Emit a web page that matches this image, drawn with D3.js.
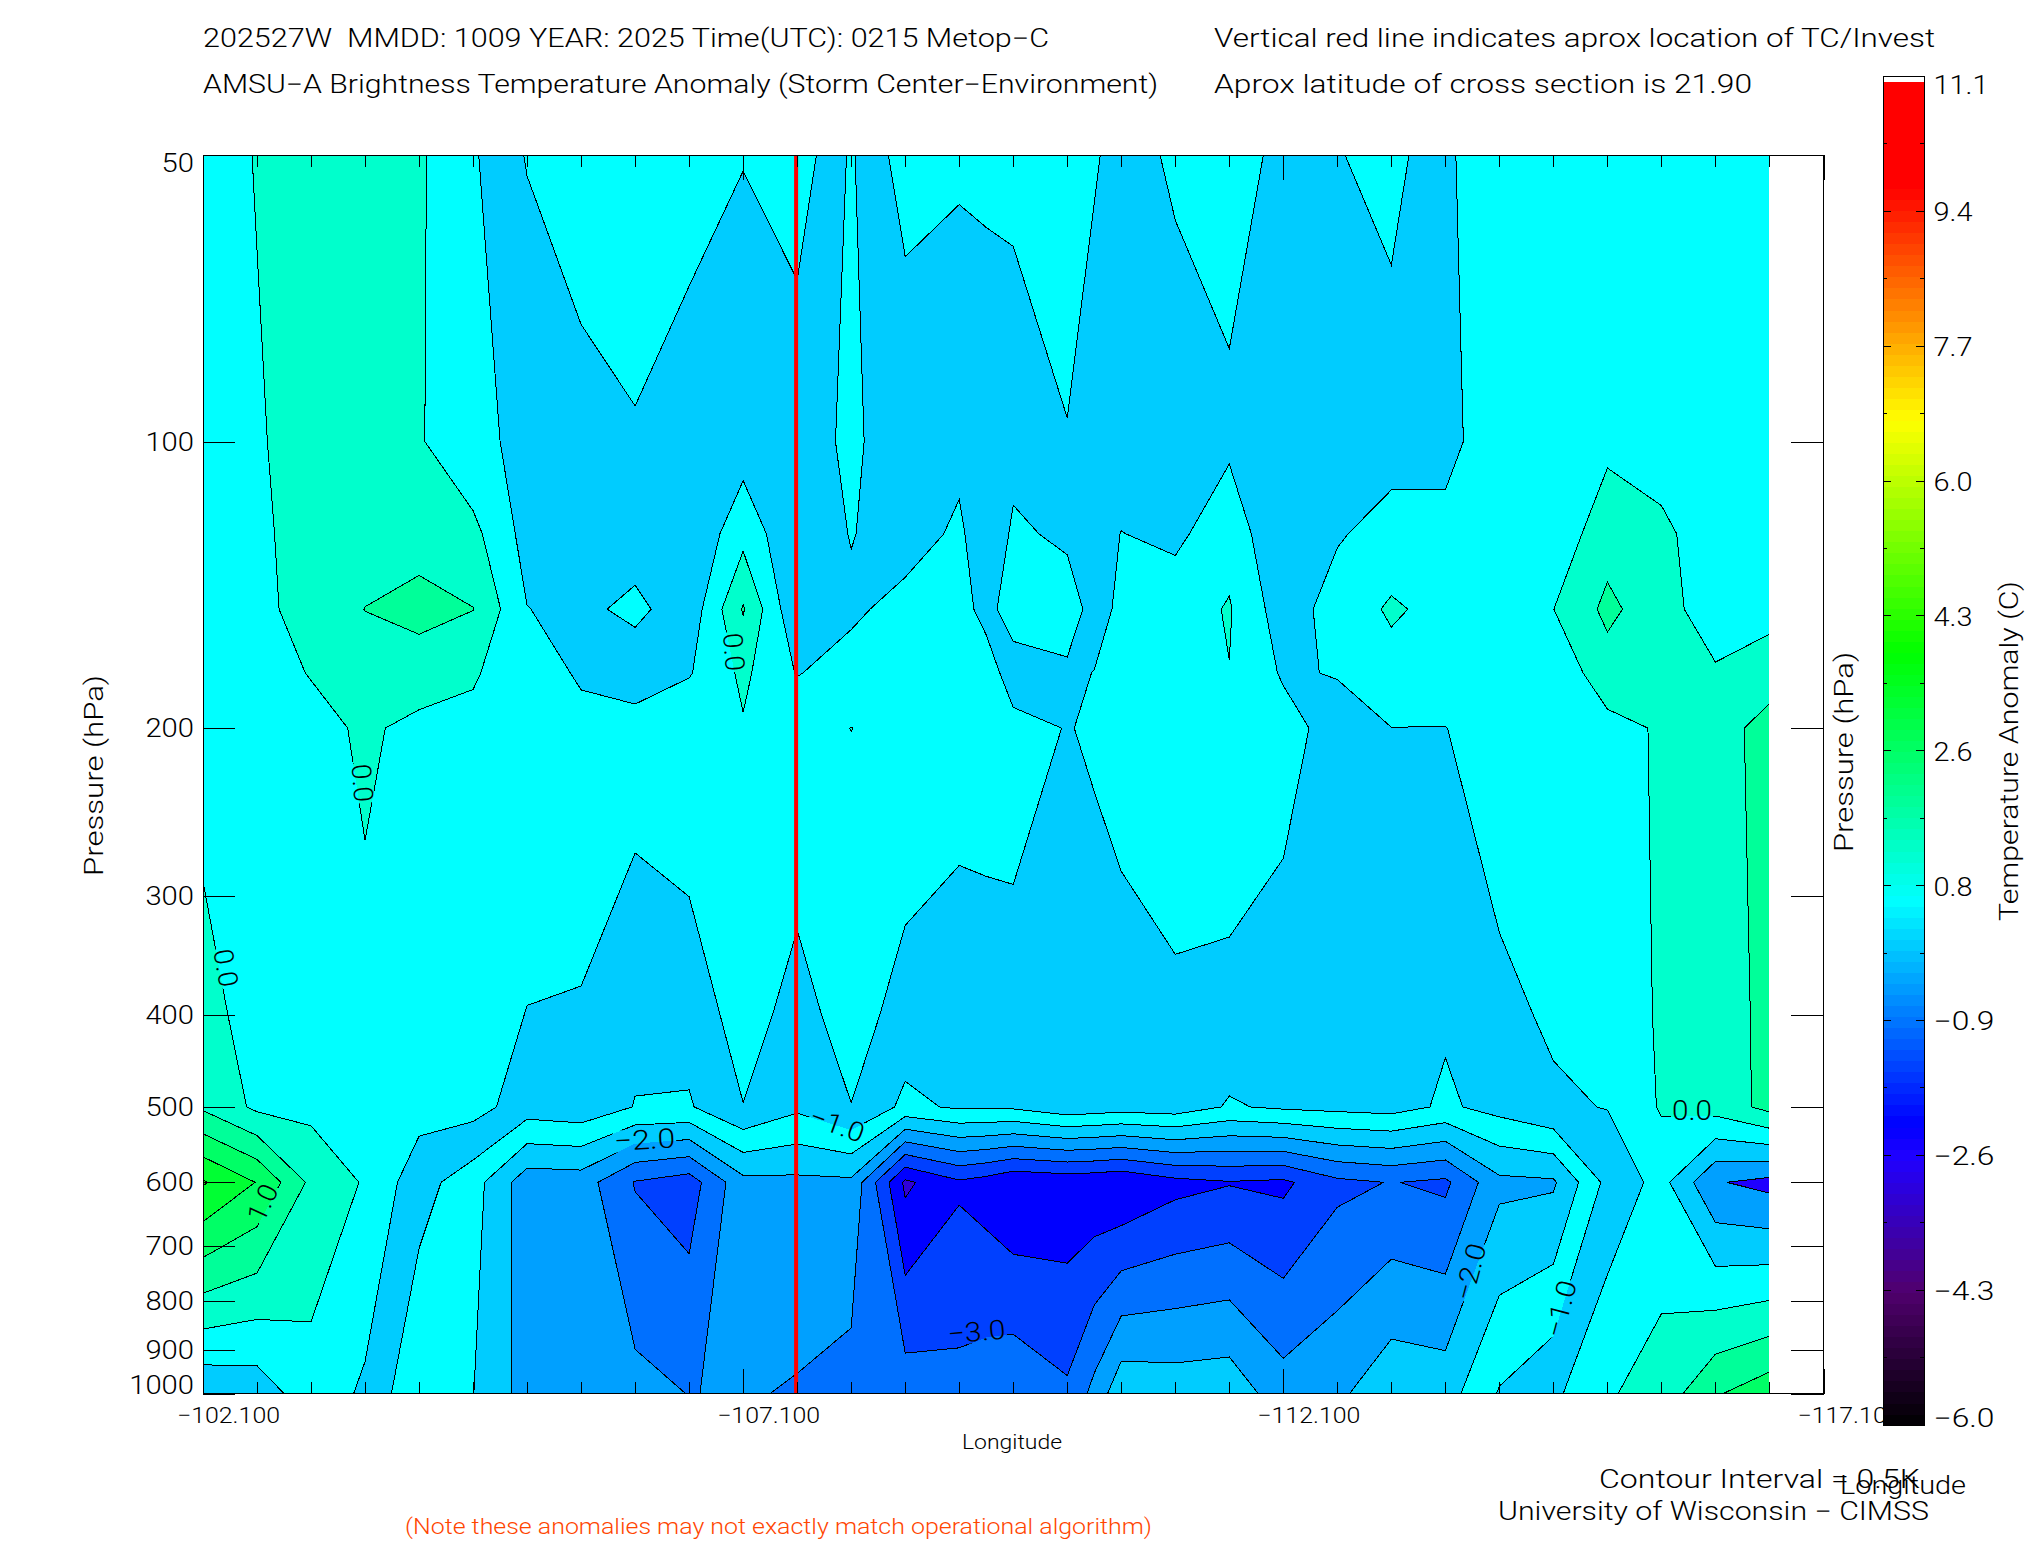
<!DOCTYPE html>
<html><head><meta charset="utf-8">
<script src="https://cdn.jsdelivr.net/npm/d3@7/dist/d3.min.js"></script>
<style>
html,body{margin:0;background:#fff}
svg{display:block}
text{font-family:Roboto,"Liberation Sans",sans-serif;font-weight:300;fill:#000;white-space:pre}
</style></head><body>
<svg id="c" width="2025" height="1550"></svg>
<script>
// Longitude columns of the cross section (two half-step columns are needed around -109.35 and -110.35)
const lons=[-102.1,-102.6,-103.1,-103.6,-104.1,-104.6,-105.1,-105.6,-106.1,-106.6,-107.1,-107.6,-108.1,-108.6,-109.1,-109.35,-109.6,-110.1,-110.35,-110.6,-111.1,-111.6,-112.1,-112.6,-113.1,-113.6,-114.1,-114.6,-115.1,-115.6,-116.1,-116.6];
const tickLons=[-102.1,-102.6,-103.1,-103.6,-104.1,-104.6,-105.1,-105.6,-106.1,-106.6,-107.1,-107.6,-108.1,-108.6,-109.1,-109.6,-110.1,-110.6,-111.1,-111.6,-112.1,-112.6,-113.1,-113.6,-114.1,-114.6,-115.1,-115.6,-116.1,-116.6];
const pressures=[30,100,125,150,175,200,400,500,600,1000];
// Anomaly (K) per level, one value per longitude column
const t30=[-.19,.08,.2,.2,.1,-.53,-.43,-.24,.02,-.28,-.29,-.292,-.509,-.28,-.28,-.235,-.19,-.1,-.283,-.47,-.25,-.065,-.427,-.31,-.1,-.52,-.3,-.2,-.2,-.2,-.2,-.2];
const t100=[-.4,-.05,.21,.2,.05,-.42,-.58,-.58,-.54,-.6,-.75,-.6,-.459,-.63,-.7,-.7,-.7,-.52,-.7,-.8,-.7,-.6,-.8,-.8,-.72,-.62,-.26,-.2,-.115,-.25,-.3,-.3];
const t125=[-.35,-.12,.25,.35,.34,.14,-.68,-.7,-.8,-.95,-.16,-.95,-.47,-.8,-.38,-.95,-.41,-.6,-.7,-.49,-.61,-.19,-.95,-.55,-.3,-.39,-.2,-.32,.286,.11,-.28,-.25];
const t150=[-.3,-.2,.29,.505,.63,.51,-.49,-.63,-.36,-.83,.54,-.95,-.618,-.28,-.42,-.568,-.398,-.24,-.69,-.4,-.227,.04,-.77,-.28,.066,-.15,-.15,-.005,.62,.19,-.26,-.18];
const t175=[-.28,-.25,.03,.35,.3,.03,-.18,-.58,-.85,-.54,.1,-.53,-.25,-.2,-.33,-.4,-.6,-.587,-.49,-.38,-.2,-.01,-.56,-.47,-.17,-.2,-.15,-.35,.287,.2,.053,.28];
const t200=[-.23,-.28,-.19,.09,-.15,-.07,-.2,-.32,-.23,-.1,-.04,-.08,.003,-.08,-.27,-.35,-.44,-.507,-.48,-.45,-.2,-.15,-.3,-.72,-.505,-.51,-.25,-.3,-.15,.05,.3,.675];
const t400=[.2,-.235,-.25,-.14,-.25,-.32,-.51,-.52,-.85,-.78,-.29,-.676,-.285,-.69,-.75,-.64,-.55,-.7,-.57,-.55,-.58,-.63,-.74,-.8,-.7,-.93,-.6,-.44,-.4,.08,.3,.61];
const t500=[.42,-.1,-.13,-.2,-.31,-.31,-.75,-.66,-1.02,-1.05,-.51,-.9,-.51,-1.12,-.93,-.925,-.92,-.66,-.72,-.78,-.72,-1.05,-.92,-.86,-.8,-1.08,-.83,-.56,-.485,.05,.2,.65];
const t600=[2.05,1.48,.39,-.05,-.8,-1.29,-2.29,-2.26,-3.03,-3.25,-2.15,-2.12,-2.1,-4.1,-3.58,-3.72,-3.95,-3.86,-3.9,-3.98,-3.66,-3.53,-3.6,-3.12,-2.98,-3.1,-2.12,-2.07,-.85,-.33,-1.46,-1.65];
const t1000=[-.9,-.8,-.2,-.58,-1.44,-1.49,-2.21,-2.25,-2.36,-2.51,-2.46,-2.54,-2.68,-2.74,-2.84,-2.74,-2.63,-2.92,-2.35,-1.64,-1.72,-1.68,-2.28,-2.1,-1.66,-1.72,-.96,-.6,-.05,.2,.95,1.3];
const levels=[-4.5,-4,-3.5,-3,-2.5,-2,-1.5,-1,-.5,0,.5,1,1.5,2];
const levelColors=["#3000d8","#0000ff","#0040ff","#0070ff","#00a0ff","#00ccff","#00ffff","#00ccff","#00ffff","#00ffcc","#00ff99","#00ff66","#00ff33","#00ff00"];
const levelColorsEast=["#2000ff","#2000ff","#2000ff","#2000ff","#2000ff","#2000ff","#00a0ff","#00ccff","#00ffff","#00ffcc","#00ff99","#00ff66","#00ff33","#00ff00"];
const pressureTicks=[50,100,200,300,400,500,600,700,800,900,1000];
const majorLons=[-102.1,-107.1,-112.1,-117.1];
const barTicks=["11.1","9.4","7.7","6.0","4.3","2.6","0.8","−0.9","−2.6","−4.3","−6.0"];
const barStops=[-6,-4.3,-2.6,-2.18,.66,3.8,6.74,9.7,11.1];
const barColors=["#000000","#50006e","#2000ff","#0000ff","#00ffff","#00ff00","#ffff00","#ff0000","#ff0000"];
const stormLon=-107.59;

const svg=d3.select("#c");
const X0=203,X1=1823.5,Y0=155,Y1=1393.5,DX=1769;
const x=d3.scaleLinear().domain([-102.1,-117.1]).range([X0,X1]);
const y=d3.scaleLog().domain([50,1000]).range([Y0,Y1]);
const grid=[t30,t100,t125,t150,t175,t200,t400,t500,t600,t1000];
const values=grid.flat(), n=lons.length, m=grid.length;
const xi=d3.scaleLinear().domain(d3.range(n)).range(lons.map(x));
const yi=d3.scaleLinear().domain(d3.range(m)).range(pressures.map(y));
const path=d3.geoPath(d3.geoTransform({point(a,b){this.stream.point(xi(a-.5),yi(b-.5));}}));
const contourGen=d3.contours().size([n,m]);
const defs=svg.append("defs");
function clip(id,a,b){defs.append("clipPath").attr("id",id).append("rect").attr("x",a).attr("y",Y0).attr("width",b-a).attr("height",Y1-Y0);}
clip("all",X0,DX);clip("west",X0,1661);clip("east",1661,DX);

const polys=levels.map(t=>contourGen.contour(values,t));
[["west",levelColors],["east",levelColorsEast]].forEach(([id,cols])=>{
  const g=svg.append("g").attr("clip-path",`url(#${id})`);
  polys.forEach((p,i)=>g.append("path").attr("d",path(p)).attr("fill",cols[i]).attr("shape-rendering","crispEdges"));
});

// contour labels and the gaps they cut in the lines
const labels=[
 ["0.0",362,783,85,38],["0.0",733.5,652,85,38],["0.0",225.5,968,80,38],["0.0",1692,1110.5,0,40],
 ["1.0",263,1203,-65,38],["−2.0",644.6,1140,-3,61],["−1.0",837,1125,20,56],["−3.0",976.5,1332,-5,58],
 ["−2.0",1470.5,1272,-75,58],["−1.0",1561,1309,-75,58]];
const mask=defs.append("mask").attr("id","gaps").attr("maskUnits","userSpaceOnUse").attr("x",0).attr("y",0).attr("width",2025).attr("height",1550);
mask.append("rect").attr("width",2025).attr("height",1550).attr("fill","#fff");
labels.forEach(l=>mask.append("rect").attr("x",-l[4]/2-1).attr("y",-11).attr("width",l[4]+2).attr("height",22).attr("fill","#000").attr("transform",`translate(${l[1]},${l[2]}) rotate(${l[3]})`));
const lines=svg.append("g").attr("clip-path","url(#all)").append("g").attr("mask","url(#gaps)");
polys.slice(1).forEach(p=>lines.append("path").attr("d",path(p)).attr("fill","none").attr("stroke","#000").attr("stroke-width",1).attr("shape-rendering","crispEdges"));
labels.forEach(l=>svg.append("text").text(l[0]).attr("transform",`translate(${l[1]},${l[2]}) rotate(${l[3]})`).attr("text-anchor","middle").attr("dominant-baseline","central").attr("font-size",27).attr("textLength",l[4]).attr("lengthAdjust","spacingAndGlyphs"));

// storm centre
svg.append("line").attr("x1",x(stormLon)).attr("x2",x(stormLon)).attr("y1",Y0).attr("y2",Y1).attr("stroke","#ff0000").attr("stroke-width",4);

// axes
function marks(g){g.select(".domain").remove();g.selectAll("line").attr("stroke","#000").attr("shape-rendering","crispEdges");g.selectAll("text").remove();}
svg.append("g").attr("transform",`translate(0,${Y0})`).call(d3.axisTop(x).tickValues(tickLons).tickSize(-12)).call(marks);
svg.append("g").attr("transform",`translate(0,${Y1})`).call(d3.axisBottom(x).tickValues(tickLons).tickSize(-12)).call(marks);
svg.append("g").attr("transform",`translate(0,${Y0})`).call(d3.axisTop(x).tickValues(majorLons).tickSize(-25)).call(marks);
svg.append("g").attr("transform",`translate(0,${Y1})`).call(d3.axisBottom(x).tickValues(majorLons).tickSize(-25)).call(marks);
svg.append("g").attr("transform",`translate(${X0},0)`).call(d3.axisLeft(y).tickValues(pressureTicks).tickSize(-32)).call(marks);
svg.append("g").attr("transform",`translate(${X1},0)`).call(d3.axisRight(y).tickValues(pressureTicks).tickSize(-33)).call(marks);
svg.append("rect").attr("x",X0).attr("y",Y0).attr("width",X1-X0).attr("height",Y1-Y0).attr("fill","none").attr("stroke","#000").attr("shape-rendering","crispEdges");

function txt(s,a,b,w,size=25,rot=0,anchor="start",col="#000"){
  const t=svg.append("text").text(s).attr("text-anchor",anchor).attr("dominant-baseline","alphabetic").attr("font-size",size).attr("textLength",w).attr("lengthAdjust","spacingAndGlyphs").style("fill",col);
  t.attr("transform",`translate(${a},${b})${rot?` rotate(${rot})`:""}`);return t;
}
pressureTicks.forEach(p=>{
  const s=String(p),off=p===50?8:p===1000?-9:0;
  txt(s,194,y(p)+off+9,s.length*16.2,25,0,"end");
});
majorLons.forEach(l=>txt(d3.format(".3f")(l),x(l)-26,1423,103,22));
txt("Longitude",962,1449,100,20);
txt("Pressure (hPa)",103,876,201,25,-90);
txt("Pressure (hPa)",1853,852,200,25,-90);
txt("Temperature Anomaly (C)",2018,921,340,25,-90);
txt("202527W  MMDD: 1009 YEAR: 2025 Time(UTC): 0215 Metop−C",203,47,846);
txt("Vertical red line indicates aprox location of TC/Invest",1214,47,721);
txt("AMSU−A Brightness Temperature Anomaly (Storm Center−Environment)",203,93,955);
txt("Aprox latitude of cross section is 21.90",1214,93,538);
txt("Contour Interval = 0.5K",1599,1488,321);
txt("Longitude",1840,1494,126);
txt("University of Wisconsin − CIMSS",1498,1520,431);
txt("(Note these anomalies may not exactly match operational algorithm)",405,1534,747,22,0,"start","#ff4500");

// colour bar
const BT=76.5,BB=1425,BL=1883,BR=1924,BW=82;
const by=d3.scaleLinear().domain([-6,11.1]).range([BB,BT]);
const barColor=d3.scaleLinear().domain(barStops).range(barColors);
const step=.14;
svg.append("rect").attr("x",BL).attr("y",BT).attr("width",BR-BL).attr("height",BB-BT).attr("fill","#fff");
d3.range(-6,11.03,step).forEach(v=>{
  const top=Math.max(by(v+step),BW);
  svg.append("rect").attr("x",BL).attr("width",BR-BL).attr("y",top).attr("height",Math.max(0,by(v)-top+.6)).attr("fill",barColor(Math.min(v+step/2,11.1))).attr("shape-rendering","crispEdges");
});
svg.append("rect").attr("x",BL).attr("y",BT).attr("width",BR-BL).attr("height",BB-BT).attr("fill","none").attr("stroke","#000").attr("shape-rendering","crispEdges");
const tickVals=d3.range(0,21).map(i=>BT+(BB-BT)*i/20);
tickVals.forEach((ty,i)=>{
  const len=i%2?4:8;
  [[BL,BL+len],[BR-len,BR]].forEach(([a,b])=>svg.append("line").attr("x1",a).attr("x2",b).attr("y1",ty).attr("y2",ty).attr("stroke","#000").attr("shape-rendering","crispEdges"));
});
barTicks.forEach((s,i)=>{
  const off=i===0?8:i===barTicks.length-1?-7:1;
  txt(s,1933.5,BT+(BB-BT)*i/10+off+9,s.length===3?39:s==="11.1"?55:61,25);
});
</script></body></html>
